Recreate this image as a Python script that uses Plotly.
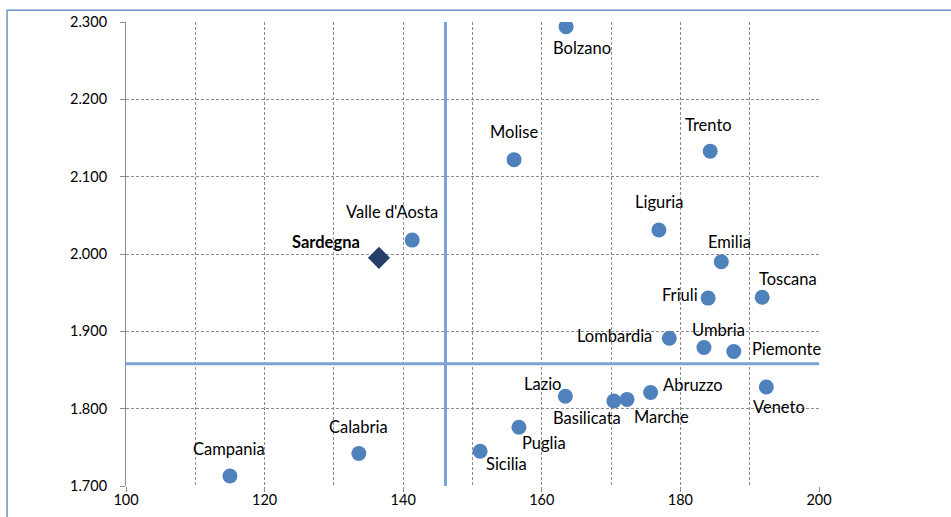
import plotly.graph_objects as go

# regional data (x: index, y: value)
REGIONS = [
    "Bolzano", "Molise", "Trento", "Liguria", "Valle d'Aosta", "Emilia",
    "Friuli", "Toscana", "Lombardia", "Umbria", "Piemonte", "Veneto",
    "Abruzzo", "Marche", "Basilicata", "Lazio", "Puglia", "Sicilia",
    "Calabria", "Campania",
]
X_VALS = [163.5, 156.0, 184.3, 176.9, 141.3, 185.9,
          184.0, 191.8, 178.4, 183.4, 187.7, 192.4,
          175.7, 172.3, 170.4, 163.4, 156.7, 151.1,
          133.6, 115.0]
Y_VALS = [2294, 2122, 2133, 2031, 2018, 1990,
          1943, 1944, 1891, 1879, 1874, 1828,
          1821, 1812, 1810, 1816, 1776, 1745,
          1742, 1713]

SARDEGNA_X = [136.5]
SARDEGNA_Y = [1995]

# Italy reference lines
AVG_X = 146.1
AVG_Y = 1858
X_RANGE = [100, 200]
Y_RANGE = [1700, 2300]

# label placement: (xanchor, dx px, dy px downwards)
LABEL_POS = {
    "Bolzano": ("center", 16, 21),
    "Molise": ("center", 0, -28),
    "Trento": ("center", -2, -26),
    "Liguria": ("center", 0, -28),
    "Valle d'Aosta": ("center", -20, -28),
    "Emilia": ("center", 8, -20),
    "Friuli": ("right", -8, -3),
    "Toscana": ("center", 26, -18),
    "Lombardia": ("right", -15, -2),
    "Umbria": ("center", 15, -18),
    "Piemonte": ("left", 16, -2),
    "Veneto": ("center", 13, 20),
    "Abruzzo": ("left", 10, -7),
    "Marche": ("center", 34, 18),
    "Basilicata": ("center", -27, 17),
    "Lazio": ("center", -23, -12),
    "Puglia": ("center", 25, 16),
    "Sicilia": ("center", 26, 13),
    "Calabria": ("center", 0, -27),
    "Campania": ("center", -1, -27),
}

FONT = "Lato, 'Open Sans', sans-serif"
BLUE = "#4F81BD"
DARK = "#243F6B"
LINE_BLUE = "#7BA3D6"
GRID = "#8C8C8C"
DASH = "3px,2px"

fig = go.Figure()

fig.add_trace(go.Scatter(x=[AVG_X, AVG_X], y=Y_RANGE, mode="lines",
                         line=dict(color=LINE_BLUE, width=3), hoverinfo="skip"))
fig.add_trace(go.Scatter(x=[X_RANGE[0], X_RANGE[1] + 0.4], y=[AVG_Y, AVG_Y], mode="lines",
                         line=dict(color=LINE_BLUE, width=3), hoverinfo="skip", cliponaxis=False))

fig.add_trace(go.Scatter(x=X_VALS, y=Y_VALS, mode="markers", text=REGIONS,
                         marker=dict(color=BLUE, size=15, line=dict(width=0))))
fig.add_trace(go.Scatter(x=SARDEGNA_X, y=SARDEGNA_Y, mode="markers",
                         marker=dict(color=DARK, size=17, symbol="diamond", line=dict(width=0))))

for name, xv, yv in zip(REGIONS, X_VALS, Y_VALS):
    anchor, dx, dy = LABEL_POS[name]
    fig.add_annotation(x=xv, y=yv, text=name, showarrow=False, xanchor=anchor,
                       yanchor="middle", xshift=dx, yshift=-dy,
                       font=dict(family=FONT, size=16.5, color="#000000"))

fig.add_annotation(x=SARDEGNA_X[0], y=SARDEGNA_Y[0], text="<b>Sardegna</b>", showarrow=False,
                   xanchor="right", yanchor="middle", xshift=-17, yshift=16,
                   font=dict(family=FONT, size=16.5, color="#000000"))

# outer chart frame
fig.add_shape(type="rect", xref="paper", yref="paper", x0=-0.1716, x1=1.5, y0=-0.5, y1=1.0252,
              line=dict(color="#6E93C8", width=1.5), fillcolor="rgba(0,0,0,0)", layer="below")

fig.update_layout(
    width=951, height=517,
    margin=dict(l=126, r=132, t=22, b=31),
    paper_bgcolor="white", plot_bgcolor="white",
    showlegend=False,
    separators=",.",
    font=dict(family=FONT, size=14.5, color="#000000"),
)
fig.update_xaxes(range=X_RANGE, dtick=20, tick0=100, showgrid=True, gridcolor=GRID, griddash=DASH,
                 gridwidth=1, ticks="outside", ticklen=5, tickcolor=GRID, zeroline=False,
                 showline=False, minor=dict(dtick=10, showgrid=True, gridcolor=GRID, griddash=DASH),
                 ticklabelstandoff=-4, tickfont=dict(size=14.5), automargin=False)
fig.update_yaxes(range=Y_RANGE, dtick=100, showgrid=True, gridcolor=GRID, griddash=DASH,
                 gridwidth=1, ticks="outside", ticklen=5, tickcolor=GRID, zeroline=False,
                 showline=True, linecolor=GRID, linewidth=1, tickformat=",d",
                 ticklabelstandoff=10, tickfont=dict(size=14.5), automargin=False)

fig.write_html("out.html", config={"displayModeBar": False},
               post_script="document.body.style.margin='0';")
